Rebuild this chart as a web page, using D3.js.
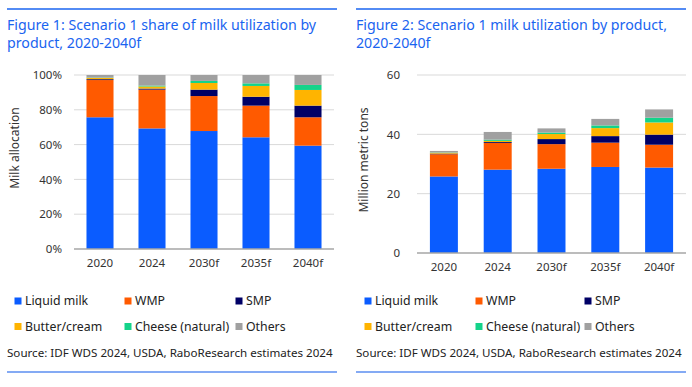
<!DOCTYPE html>
<html lang="en">
<head>
<meta charset="UTF-8">
<script src="https://cdn.jsdelivr.net/npm/d3@7"></script>
<style>
  body { margin: 0; background: #fff; }
  text { font-family: "Noto Sans", "Open Sans", sans-serif; }
</style>
</head>
<body>
<script>
const W = 692, H = 387;

const years = ["2020", "2024", "2030f", "2035f", "2040f"];
const products = ["Liquid milk", "WMP", "SMP", "Butter/cream", "Cheese (natural)", "Others"];
const colors = ["#0a5cff", "#ff5a00", "#000066", "#ffb400", "#14d38a", "#a0a0a0"];

// Figure 1: share of milk (%)
const shareLiquid = [75.7, 69.3, 67.8, 64.2, 59.4];
const shareWMP    = [21.4, 22.3, 20.1, 18.2, 16.3];
const shareSMP    = [0.5, 0.6, 3.7, 5.1, 6.7];
const shareButter = [0.7, 1.2, 3.8, 6.2, 9.0];
const shareCheese = [0.2, 0.5, 1.2, 1.5, 2.9];
const shareOthers = [1.5, 6.1, 3.4, 4.8, 5.7];
const shareTicks = [0, 20, 40, 60, 80, 100];

// Figure 2: million metric tons
const tonsLiquid = [25.8, 28.1, 28.4, 29.0, 28.8];
const tonsWMP    = [7.5, 9.0, 8.3, 8.2, 7.7];
const tonsSMP    = [0.2, 0.3, 1.7, 2.2, 3.4];
const tonsButter = [0.3, 0.4, 1.7, 2.7, 4.1];
const tonsCheese = [0.1, 0.4, 0.5, 0.9, 1.6];
const tonsOthers = [0.5, 2.6, 1.4, 2.2, 2.8];
const tonsTicks = [0, 20, 40, 60];

const svg = d3.select("body").append("svg")
    .attr("width", W)
    .attr("height", H);

function rows(series) {
    return years.map((y, i) => {
        const r = { year: y };
        products.forEach((p, k) => r[p] = series[k][i]);
        return r;
    });
}

function panel(opt) {
    const g = svg.append("g").attr("transform", `translate(${opt.left},0)`);

    // rules top and bottom
    g.append("line").attr("x1", 0).attr("x2", opt.width).attr("y1", 9).attr("y2", 9)
        .attr("stroke", "#1a64f0").attr("stroke-width", 1.5);
    g.append("line").attr("x1", 0).attr("x2", opt.width).attr("y1", 372).attr("y2", 372)
        .attr("stroke", "#5b8ef0").attr("stroke-width", 1.5);

    // title
    opt.title.forEach((t, i) => {
        g.append("text")
            .attr("x", 0).attr("y", 30 + i * 17.5)
            .attr("fill", "#1a64f0")
            .style("font-size", "14.2px")
            .text(t);
    });

    const x = d3.scaleBand().domain(years).range([opt.plotX0, opt.plotX1]).paddingInner(0.48).paddingOuter(0.24);
    const y = d3.scaleLinear().domain(opt.domain).range([opt.y0, opt.y1]);

    // gridlines
    g.append("g").selectAll("line")
        .data(opt.ticks.slice(1))
        .join("line")
        .attr("x1", opt.plotX0).attr("x2", opt.plotX1)
        .attr("y1", d => y(d)).attr("y2", d => y(d))
        .attr("stroke", "#d9d9d9");

    const yAxis = d3.axisLeft(y).tickValues(opt.ticks).tickSize(0).tickPadding(opt.tickPad).tickFormat(opt.fmt);
    const ya = g.append("g").attr("transform", `translate(${opt.plotX0},0)`).call(yAxis);
    ya.select(".domain").remove();
    ya.selectAll("text").style("font-size", "11.5px").attr("fill", "#333");

    const stack = d3.stack().keys(products)(rows(opt.series));
    g.append("g").selectAll("g")
        .data(stack)
        .join("g")
        .attr("fill", (d, i) => colors[i])
        .selectAll("rect")
        .data(d => d)
        .join("rect")
        .attr("x", d => x(d.data.year))
        .attr("width", x.bandwidth())
        .attr("y", d => y(d[1]))
        .attr("height", d => y(d[0]) - y(d[1]));

    const xAxis = d3.axisBottom(x).tickSize(0).tickPadding(10);
    const xa = g.append("g").attr("transform", `translate(0,${opt.y0})`).call(xAxis);
    xa.select(".domain").attr("stroke", "#a6a6a6").attr("stroke-width", 1.5)
        .attr("d", `M${opt.plotX0},0H${opt.plotX1}`);
    xa.selectAll("text").style("font-size", "11.5px").attr("fill", "#333");

    // y title
    g.append("text")
        .attr("transform", `translate(${opt.yTitleX},${opt.yTitleY}) rotate(-90)`)
        .attr("text-anchor", "middle")
        .style("font-size", "12px")
        .attr("fill", "#333")
        .text(opt.yTitle);

    // legend
    const lg = g.append("g");
    products.forEach((p, i) => {
        const col = i % 3, row = Math.floor(i / 3);
        const lx = opt.legX[col];
        const ly = 301 + row * 25.5;
        lg.append("rect").attr("x", lx - 3.5).attr("y", ly - 3.5).attr("width", 7).attr("height", 7).attr("fill", colors[i]);
        lg.append("text").attr("x", lx + 7).attr("y", ly).attr("dy", "0.35em")
            .style("font-size", "12.3px").attr("fill", "#222").text(p);
    });

    g.append("text")
        .attr("x", 0).attr("y", 353).attr("dy", "0.35em")
        .style("font-size", "11.6px").attr("fill", "#222")
        .text("Source: IDF WDS 2024, USDA, RaboResearch estimates 2024");
}

panel({
    left: 7, width: 330,
    title: ["Figure 1: Scenario 1 share of milk utilization by", "product, 2020-2040f"],
    plotX0: 67, plotX1: 327, y0: 249, y1: 75,
    domain: [0, 100], ticks: shareTicks, fmt: d => d + "%", tickPad: 12,
    series: [shareLiquid, shareWMP, shareSMP, shareButter, shareCheese, shareOthers],
    yTitle: "Milk allocation", yTitleX: 12, yTitleY: 148,
    legX: [11, 121, 232]
});

panel({
    left: 356, width: 330,
    title: ["Figure 2: Scenario 1 milk utilization by product,", "2020-2040f"],
    plotX0: 61, plotX1: 330, y0: 253, y1: 75,
    domain: [0, 60], ticks: tonsTicks, fmt: d => d, tickPad: 17,
    series: [tonsLiquid, tonsWMP, tonsSMP, tonsButter, tonsCheese, tonsOthers],
    yTitle: "Million metric tons", yTitleX: 12, yTitleY: 160,
    legX: [12, 123, 232]
});
</script>
</body>
</html>
